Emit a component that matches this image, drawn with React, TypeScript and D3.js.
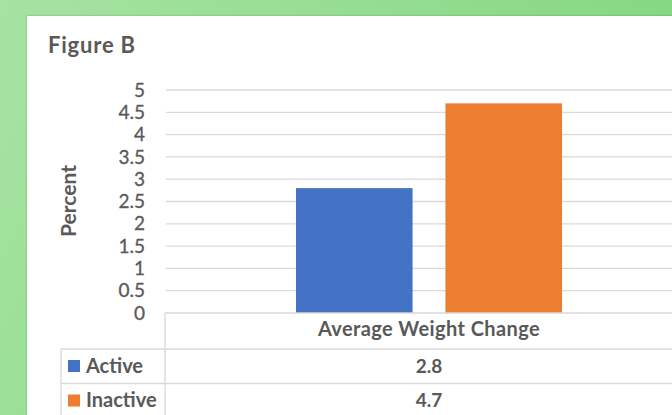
import React, { useEffect } from "react";
import * as d3 from "d3";

const categories = ["Average Weight Change"];
const seriesNames = ["Active", "Inactive"];
const seriesValues = [2.8, 4.7];
const seriesColors = ["#4472c4", "#ed7d31"];
const yTicks = [0, 0.5, 1, 1.5, 2, 2.5, 3, 3.5, 4, 4.5, 5];

const W = 672;
const H = 415;
const FONT = "Lato, 'Open Sans', sans-serif";
const TEXT = "#595959";
const GRID = "#d9d9d9";

export default function App() {
  useEffect(() => {
    document.body.style.margin = "0";
  }, []);

  const plotLeft = 166;
  const plotRight = 692;
  const y = d3.scaleLinear().domain([0, 5]).range([313, 90]);
  const x0 = d3.scaleBand<string>().domain(categories).range([plotLeft, plotRight]);
  const x1 = d3
    .scaleBand<string>()
    .domain(seriesNames)
    .range([0, x0.bandwidth()])
    .paddingInner(0.22)
    .paddingOuter(0.87);

  const tableLeft = 61;
  const rowTop = 349;
  const rowH = 34.5;

  return (
    <svg
      width={W}
      height={H}
      style={{ position: "absolute", left: 0, top: 0, display: "block" }}
    >
      <defs>
        <linearGradient id="bg" x1="0" y1="0" x2="1" y2="0.3">
          <stop offset="0" stopColor="#a6e3a2" />
          <stop offset="1" stopColor="#83d780" />
        </linearGradient>
        <filter id="sh" x="-5%" y="-5%" width="110%" height="110%">
          <feDropShadow dx="0" dy="0" stdDeviation="1.2" floodColor="#000" floodOpacity="0.25" />
        </filter>
      </defs>
      <rect x={0} y={0} width={W} height={H} fill="url(#bg)" />
      <rect x={27} y={16} width={W} height={H} fill="#fff" filter="url(#sh)" />

      <text x={48} y={53} fontFamily={FONT} fontWeight={700} fontSize={22} fill={TEXT} letterSpacing={0.8}>
        Figure B
      </text>

      <text
        transform={`translate(76,201) rotate(-90)`}
        textAnchor="middle"
        fontFamily={FONT}
        fontWeight={700}
        fontSize={21}
        fill={TEXT}
      >
        Percent
      </text>

      {yTicks.map((t) => (
        <g key={t}>
          {t > 0 && (
            <line x1={plotLeft} x2={W} y1={y(t)} y2={y(t)} stroke={GRID} strokeWidth={1.3} />
          )}
          <text
            x={145}
            y={y(t)}
            dy="0.35em"
            textAnchor="end"
            fontFamily={FONT}
            fontSize={19}
            fill={TEXT}
            stroke={TEXT}
            strokeWidth={0.3}
          >
            {String(t)}
          </text>
        </g>
      ))}

      {categories.map((c) =>
        seriesNames.map((s, i) => (
          <rect
            key={c + s}
            x={(x0(c) ?? 0) + (x1(s) ?? 0)}
            width={x1.bandwidth()}
            y={y(seriesValues[i])}
            height={y(0) - y(seriesValues[i])}
            fill={seriesColors[i]}
          />
        ))
      )}

      {/* data table */}
      <line x1={plotLeft - 1} x2={W} y1={y(0)} y2={y(0)} stroke={GRID} strokeWidth={1.3} />
      <line x1={plotLeft - 1} x2={plotLeft - 1} y1={y(0)} y2={H} stroke={GRID} strokeWidth={1.3} />
      <line x1={tableLeft} x2={tableLeft} y1={rowTop} y2={H} stroke={GRID} strokeWidth={1.3} />
      {[0, 1, 2].map((r) => (
        <line
          key={r}
          x1={tableLeft}
          x2={W}
          y1={rowTop + r * rowH}
          y2={rowTop + r * rowH}
          stroke={GRID}
          strokeWidth={1.3}
        />
      ))}
      {categories.map((c) => (
        <text
          key={c}
          x={(x0(c) ?? 0) + x0.bandwidth() / 2}
          y={336}
          textAnchor="middle"
          fontFamily={FONT}
          fontWeight={700}
          fontSize={20}
          fill={TEXT}
          letterSpacing={0.4}
        >
          {c}
        </text>
      ))}
      {seriesNames.map((s, i) => (
        <g key={s}>
          <rect x={68} y={360 + i * rowH} width={12} height={12} fill={seriesColors[i]} />
          <text
            x={86}
            y={372.5 + i * rowH}
            fontFamily={FONT}
            fontWeight={700}
            fontSize={20}
            fill={TEXT}
          >
            {s}
          </text>
          {categories.map((c) => (
            <text
              key={c}
              x={(x0(c) ?? 0) + x0.bandwidth() / 2}
              y={372.5 + i * rowH}
              textAnchor="middle"
              fontFamily={FONT}
              fontWeight={700}
              fontSize={19}
              fill={TEXT}
            >
              {String(seriesValues[i])}
            </text>
          ))}
        </g>
      ))}
    </svg>
  );
}
